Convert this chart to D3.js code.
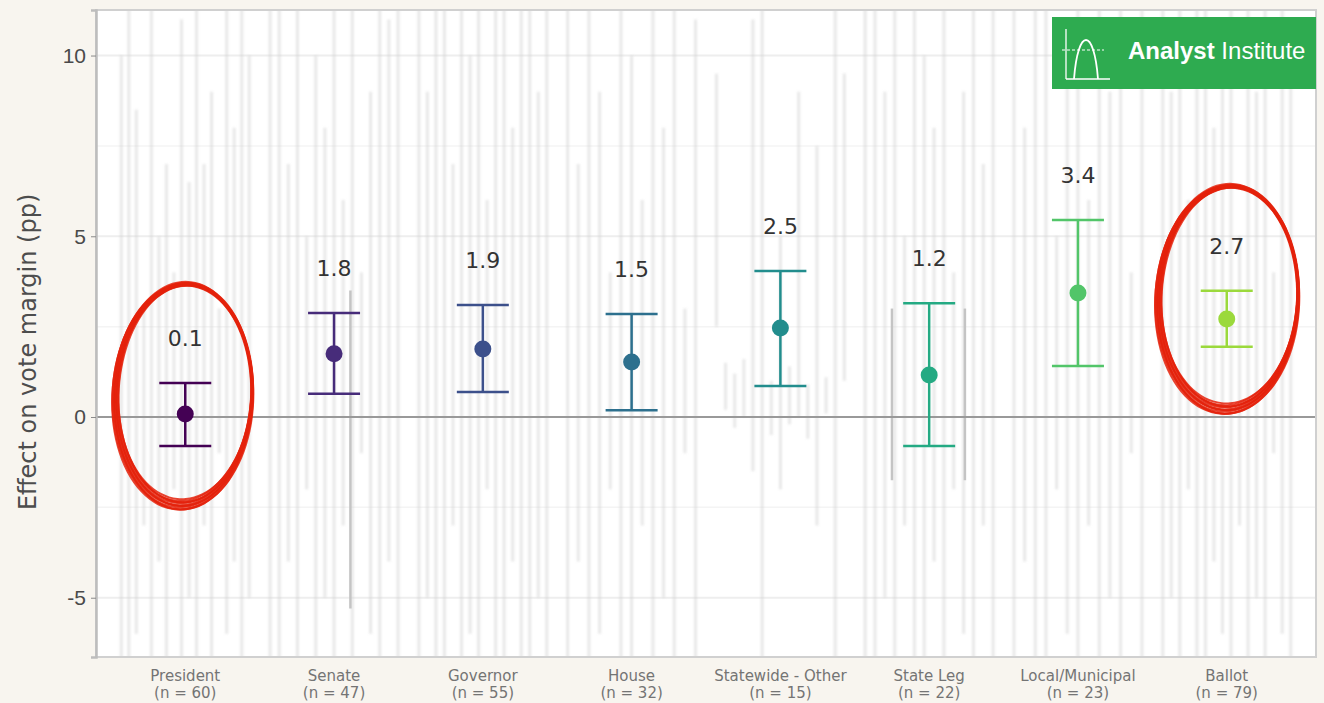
<!DOCTYPE html>
<meta charset="utf-8">
<style>
  body { margin: 0; background: #f8f5ef; }
  svg { display: block; font-family: "DejaVu Sans", sans-serif; }
  .y-axis text { font-size: 21px; fill: #4a4a4a; }
  .y-axis line { stroke: #8a8a8a; }
  .xlab { font-size: 15px; fill: #747474; }
</style>
<svg width="1324" height="703"></svg>
<script src="https://d3js.org/d3.v7.min.js"></script>
<script>
  // pooled estimate by race type
  var categories = ["President", "Senate", "Governor", "House", "Statewide - Other", "State Leg", "Local/Municipal", "Ballot"];
  var nStudies = [60, 47, 55, 32, 15, 22, 23, 79];
  var estimates = [0.08, 1.75, 1.88, 1.52, 2.46, 1.16, 3.43, 2.71];
  var lower = [-0.80, 0.64, 0.69, 0.19, 0.86, -0.80, 1.41, 1.94];
  var upper = [0.94, 2.88, 3.10, 2.85, 4.04, 3.15, 5.45, 3.49];
  var labels = ["0.1", "1.8", "1.9", "1.5", "2.5", "1.2", "3.4", "2.7"];
  var yTicks = [-5, 0, 5, 10];

  // individual study intervals [lo, hi] drawn faint behind the estimates
  var studyPresident = [[-7, 10], [-7, 12], [-6, 8.5], [-3, 3], [-7, 12], [-4, 5], [-7, 7], [-2, 4], [-7, 11], [-5, 6.5], [-7, 12], [-3, 7], [-7, 9], [-1, 3], [-6, 12], [-4, 8], [-7, 12], [-5, 10]];
  var studySenate = [[-7, 12], [-7, 12], [-4, 7], [-7, 12], [-2, 5], [-7, 10], [-5, 8], [-7, 12], [-3, 6], [-7, 12], [-1, 4], [-6, 9], [-7, 12], [-4, 11], [-7, 12]];
  var studyGovernor = [[-7, 12], [-5, 9], [-7, 12], [-7, 12], [-3, 7], [-7, 12], [-6, 10], [-7, 12], [-2, 6], [-7, 12], [-7, 12], [-4, 8], [-7, 12], [-7, 12], [-5, 9], [-7, 12]];
  var studyHouse = [[-7, 12], [-4, 7], [-7, 12], [-6, 9], [-2, 4], [-7, 12], [-7, 10], [-3, 6], [-7, 12], [-5, 8], [-7, 12], [-1, 3], [-7, 11]];
  var studyStatewide = [[2.5, 9.5], [0.2, 1.5], [-0.3, 1.2], [0, 1.6], [-1.5, 11], [-7, 12], [-0.5, 1.0], [-2, 5], [-0.2, 1.4], [0, 9], [-0.6, 0.9], [-3, 7.5], [0.1, 1.1], [-7, 12], [1, 9.5]];
  var studyStateLeg = [[-7, 12], [-7, 12], [-5, 9], [-7, 12], [-3, 5], [-7, 12], [-7, 10], [-4, 8], [-7, 12], [-2, 4], [-6, 9], [-7, 12], [-3, 7], [-7, 12]];
  var studyLocal = [[-7, 12], [-4, 8], [-7, 12], [-7, 12], [-2, 5], [-6, 10], [-7, 12], [-3, 6], [-7, 12], [-5, 9], [-7, 12], [-1, 4], [-7, 12]];
  var studyBallot = [[-7, 12], [-5, 9], [-7, 12], [-2, 6], [-7, 12], [-7, 12], [-4, 8], [-6, 10], [-7, 12], [-3, 5], [-7, 12], [-5, 9], [-7, 12], [-1, 4], [-6, 12], [-7, 11]];
  var studies = [studyPresident, studySenate, studyGovernor, studyHouse, studyStatewide, studyStateLeg, studyLocal, studyBallot];

  // a few darker study intervals (category, jitter in category steps, lo, hi)
  var darkStudies = [["Senate", 0.11, -5.3, 3.5], ["State Leg", -0.25, -1.75, 3.0], ["State Leg", 0.24, -1.75, 3.0]];

  var svg = d3.select("svg"),
    margin = { top: 10, right: 8, bottom: 46, left: 96 },
    W = +svg.attr("width"),
    H = +svg.attr("height");

  var x = d3.scalePoint().domain(categories).range([margin.left, W - margin.right]).padding(0.6);
  var y = d3.scaleLinear().domain([-6.64, 11.26]).range([H - margin.bottom, margin.top]);
  var color = function(i) { return d3.interpolateViridis(i / (categories.length - 1) * 0.85); };

  svg.append("rect").attr("width", W).attr("height", H).attr("fill", "#f8f5ef");

  var defs = svg.append("defs");
  defs.append("clipPath").attr("id", "panel")
    .append("rect")
    .attr("x", margin.left).attr("y", margin.top)
    .attr("width", W - margin.right - margin.left)
    .attr("height", H - margin.bottom - margin.top);
  defs.append("filter").attr("id", "soft")
    .append("feGaussianBlur").attr("stdDeviation", 1.1);

  svg.append("rect")
    .attr("x", margin.left).attr("y", margin.top)
    .attr("width", W - margin.right - margin.left)
    .attr("height", H - margin.bottom - margin.top)
    .attr("fill", "#fff");

  var panel = svg.append("g").attr("clip-path", "url(#panel)");

  // grid
  panel.selectAll(".minor").data([-2.5, 2.5, 7.5]).enter().append("line")
    .attr("x1", margin.left).attr("x2", W - margin.right)
    .attr("y1", function(d) { return y(d); }).attr("y2", function(d) { return y(d); })
    .attr("stroke", "#f4f4f4").attr("stroke-width", 1.5);
  panel.selectAll(".major").data([-5, 5, 10]).enter().append("line")
    .attr("x1", margin.left).attr("x2", W - margin.right)
    .attr("y1", function(d) { return y(d); }).attr("y2", function(d) { return y(d); })
    .attr("stroke", "#eeeeee").attr("stroke-width", 2);

  // faint study intervals
  var soft = panel.append("g").attr("filter", "url(#soft)");
  studies.forEach(function(list, i) {
    var inner = d3.scalePoint().domain(d3.range(list.length)).range([-0.43 * x.step(), 0.43 * x.step()]);
    soft.append("g").selectAll("line").data(list).enter().append("line")
      .attr("x1", function(d, j) { return x(categories[i]) + inner(j); })
      .attr("x2", function(d, j) { return x(categories[i]) + inner(j); })
      .attr("y1", function(d) { return y(d[0]); })
      .attr("y2", function(d) { return y(d[1]); })
      .attr("stroke", "#d2d2d2")
      .attr("stroke-opacity", 0.5)
      .attr("stroke-width", 3);
  });

  panel.selectAll(".dark").data(darkStudies).enter().append("line")
    .attr("x1", function(d) { return x(d[0]) + d[1] * x.step(); })
    .attr("x2", function(d) { return x(d[0]) + d[1] * x.step(); })
    .attr("y1", function(d) { return y(d[2]); })
    .attr("y2", function(d) { return y(d[3]); })
    .attr("stroke", "#c4c4c4").attr("stroke-width", 2.5);

  // zero line
  panel.append("line")
    .attr("x1", margin.left).attr("x2", W - margin.right)
    .attr("y1", y(0)).attr("y2", y(0))
    .attr("stroke", "#999").attr("stroke-width", 2);

  // panel border
  svg.append("rect")
    .attr("x", margin.left).attr("y", margin.top)
    .attr("width", W - margin.right - margin.left)
    .attr("height", H - margin.bottom - margin.top)
    .attr("fill", "none").attr("stroke", "#d0d0d0").attr("stroke-width", 2);

  // y axis
  var yAxis = svg.append("g").attr("class", "y-axis")
    .attr("transform", "translate(" + margin.left + ",0)")
    .call(d3.axisLeft(y).tickValues(yTicks).tickSize(5).tickPadding(5).tickFormat(function(d) { return String(d); }));
  yAxis.select(".domain").attr("stroke", "#bdbdbd").attr("stroke-width", 2.5);

  svg.append("text")
    .attr("transform", "translate(36," + y(1.8) + ") rotate(-90)")
    .attr("text-anchor", "middle")
    .attr("font-size", 24).attr("fill", "#4d4d4d")
    .text("Effect on vote margin (pp)");

  // x labels
  var xl = svg.append("g").selectAll("text").data(categories).enter().append("text")
    .attr("class", "xlab").attr("text-anchor", "middle")
    .attr("x", function(d) { return x(d); });
  xl.append("tspan").attr("x", function(d) { return x(d); }).attr("y", H - margin.bottom + 24).text(function(d) { return d; });
  xl.append("tspan").attr("x", function(d) { return x(d); }).attr("y", H - margin.bottom + 41).text(function(d, i) { return "(n = " + nStudies[i] + ")"; });

  // estimates with error bars
  var est = svg.append("g").selectAll("g").data(categories).enter().append("g")
    .attr("transform", function(d) { return "translate(" + x(d) + ",0)"; });
  var cap = 26;
  est.append("line").attr("y1", function(d, i) { return y(lower[i]); }).attr("y2", function(d, i) { return y(upper[i]); })
    .attr("stroke", function(d, i) { return color(i); }).attr("stroke-width", 2.5);
  est.append("line").attr("x1", -cap).attr("x2", cap)
    .attr("y1", function(d, i) { return y(upper[i]); }).attr("y2", function(d, i) { return y(upper[i]); })
    .attr("stroke", function(d, i) { return color(i); }).attr("stroke-width", 2.5);
  est.append("line").attr("x1", -cap).attr("x2", cap)
    .attr("y1", function(d, i) { return y(lower[i]); }).attr("y2", function(d, i) { return y(lower[i]); })
    .attr("stroke", function(d, i) { return color(i); }).attr("stroke-width", 2.5);
  est.append("circle").attr("r", 8.5)
    .attr("cy", function(d, i) { return y(estimates[i]); })
    .attr("fill", function(d, i) { return color(i); });
  est.append("text").attr("text-anchor", "middle")
    .attr("y", function(d, i) { return y(upper[i]) - 37; })
    .attr("font-size", 22).attr("fill", "#333")
    .text(function(d, i) { return labels[i]; });

  // hand drawn red rings around President and Ballot (category, x shift, centre value, half width in steps, half height in units)
  var rings = [["President", -0.01, 0.62, 0.46, 3.05], ["Ballot", 0.01, 3.3, 0.47, 3.08]];
  var ringLine = d3.line().curve(d3.curveCardinalClosed);
  rings.forEach(function(r) {
    var cx = x(r[0]) + r[1] * x.step(), cy = y(r[2]);
    var rx = r[3] * x.step(), ry = Math.abs(y(0) - y(r[4]));
    for (var k = 0; k < 12; k++) {
      var pts = d3.range(48).map(function(j) {
        var t = j / 48 * 2 * Math.PI;
        // strokes pile up on the lower left, thin out on the upper right
        var heavy = 0.5 - 0.5 * Math.sin(t - 1.25 * Math.PI);
        var w = 1 + 0.006 * (k - 5.5) * (0.3 + 1.3 * heavy) + 0.006 * Math.sin(t * 3 + k * 1.7);
        var px = cx + rx * w * Math.cos(t) + 0.03 * rx * Math.sin(t);
        var py = cy + ry * w * Math.sin(t) - 0.07 * ry * Math.cos(t);
        return [px, py];
      });
      svg.append("path").attr("d", ringLine(pts))
        .attr("fill", "none").attr("stroke", "#e4220c")
        .attr("stroke-width", 1.9)
        .attr("stroke-opacity", 0.85);
    }
  });

  // logo
  var logo = svg.append("g").attr("transform", "translate(1052,17)");
  logo.append("rect").attr("width", 264).attr("height", 72).attr("fill", "#2eab50");
  logo.append("line").attr("x1", 14).attr("x2", 14).attr("y1", 12).attr("y2", 62).attr("stroke", "#fff").attr("stroke-width", 1.3);
  logo.append("line").attr("x1", 14).attr("x2", 58).attr("y1", 62).attr("y2", 62).attr("stroke", "#fff").attr("stroke-width", 1.3);
  logo.append("line").attr("x1", 10).attr("x2", 52).attr("y1", 33).attr("y2", 33).attr("stroke", "#fff").attr("stroke-width", 1).attr("stroke-dasharray", "3,2");
  logo.append("path").attr("d", "M22,62 C26,10 42,10 46,62").attr("fill", "none").attr("stroke", "#fff").attr("stroke-width", 1.8);
  var lt = logo.append("text").attr("x", 76).attr("y", 42).attr("font-family", "Liberation Sans, Arial, sans-serif").attr("font-size", 24).attr("fill", "#fff");
  lt.append("tspan").attr("font-weight", "bold").text("Analyst");
  lt.append("tspan").text(" Institute");
</script>
